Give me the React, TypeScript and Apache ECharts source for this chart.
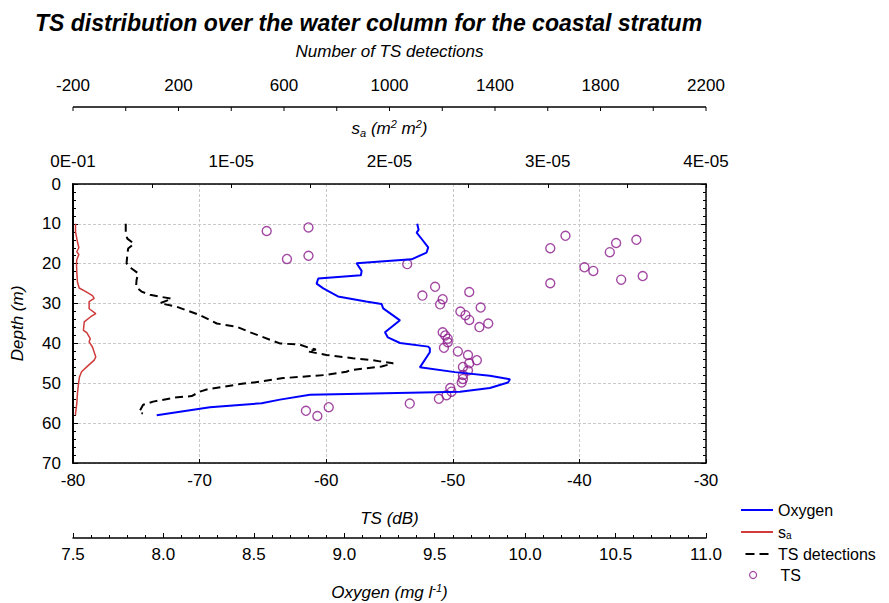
import React, { useEffect, useRef } from 'react';
import * as echarts from 'echarts';

// Oxygen profile (mg/l) against depth (m)
const oxygenDepth = [10, 11.5, 12.2, 13.8, 15.9, 17.2, 18.9, 19.9, 21.8, 22.9, 23.7, 25, 26.2, 28.2, 29.5, 30.1, 31.2, 34.2, 37.2, 38.5, 39.9, 40.8, 41.2, 42.2, 46, 47.2, 48.1, 49, 49.8, 51.2, 51.8, 52.1, 52.9, 54.1, 55, 56, 58];
const oxygenValues = [9.403, 9.411, 9.4, 9.428, 9.464, 9.455, 9.372, 9.068, 9.096, 9.092, 8.856, 8.847, 8.884, 8.965, 9.12, 9.206, 9.215, 9.308, 9.225, 9.241, 9.308, 9.464, 9.473, 9.473, 9.418, 9.612, 9.805, 9.916, 9.905, 9.805, 9.695, 9.64, 8.81, 8.644, 8.543, 8.257, 7.963];

// Area backscattering coefficient s_a (m2 m-2) against depth (m)
const saDepth = [10, 12, 14.5, 16, 17, 17.7, 19, 20, 22, 24.6, 26.1, 27, 28, 28.7, 29.5, 31.3, 32.5, 33.3, 34.6, 36.7, 37.3, 38.8, 39.6, 40.9, 43.4, 44.2, 45.7, 47.1, 48.4, 50, 52.6, 55.1, 57.6, 58];
const saValues = [1.6e-7, 1.6e-7, 2.8e-7, 3.7e-7, 2.4e-7, 3.7e-7, 2.4e-7, 2.2e-7, 2.4e-7, 2.8e-7, 3.9e-7, 8.1e-7, 1.23e-6, 1.34e-6, 1.02e-6, 1.02e-6, 1.44e-6, 1.12e-6, 7.1e-7, 6.6e-7, 8.7e-7, 1.09e-6, 1.02e-6, 1.23e-6, 1.44e-6, 1.34e-6, 9.2e-7, 5.4e-7, 4.1e-7, 3.5e-7, 2.8e-7, 2.4e-7, 1.6e-7, 1.6e-7];

// Number of single-target detections against depth (m)
const detectionDepth = [10, 12.5, 13.7, 15, 16.2, 17.8, 19.9, 21.2, 22.4, 24.1, 25.8, 27, 27.8, 28.8, 29.9, 30.8, 32.9, 35, 35.8, 37.3, 40, 40.3, 41, 41.5, 42, 42.9, 43.7, 44.2, 44.5, 45, 45.8, 46.7, 47.1, 47.9, 48.7, 49.6, 50.2, 51.5, 52.1, 53.2, 53.6, 54.6, 55.4, 57.3, 57.6];
const detectionCounts = [0, 0, 6, 31, 9, 6, 3, 22, 47, 41, 39, 60, 92, 174, 130, 193, 281, 345, 420, 475, 584, 660, 690, 721, 690, 761, 861, 937, 963, 1014, 970, 850, 837, 761, 597, 509, 433, 311, 281, 250, 186, 104, 66, 50, 65];

// Individual target strengths (dB) and their depths (m)
const tsValues = [-64.7, -63.1, -61.4, -61.4, -53.6, -51.4, -52.4, -50.8, -51.0, -48.7, -47.8, -49.4, -49.0, -48.7, -47.9, -47.2, -50.8, -50.6, -50.4, -50.4, -50.7, -49.6, -48.8, -48.1, -48.7, -49.2, -48.8, -49.2, -49.2, -49.3, -50.2, -50.1, -50.5, -51.1, -53.4, -59.8, -61.6, -60.7, -42.3, -41.1, -42.3, -39.6, -38.9, -37.6, -37.1, -35.5, -36.7, -35.0];
const tsDepth = [11.8, 18.8, 10.9, 18.0, 20.1, 25.8, 28.0, 28.9, 30.2, 27.1, 31.0, 32.0, 32.9, 34.1, 35.9, 35.0, 37.2, 38.0, 38.8, 39.7, 41.1, 42.0, 42.9, 44.2, 45.0, 45.9, 46.8, 47.9, 48.9, 49.8, 51.2, 52.1, 53.0, 53.9, 55.1, 56.0, 56.9, 58.2, 16.1, 13.0, 24.9, 20.9, 21.8, 17.1, 14.8, 14.0, 24.0, 23.1];

// Axis ranges
const DEPTH_RANGE = [0, 70];
const TS_RANGE = [-80, -30];
const SA_RANGE = [0, 4e-5];
const OXY_RANGE = [7.5, 11];
const COUNT_RANGE = [-200, 2200];
const COUNT_TICK_STEP = 200;
const COUNT_LABEL_STEP = 400;

// Plot frame and the two extra scales outside it (px)
const PLOT_LEFT = 73;
const PLOT_TOP = 184;
const PLOT_W = 633;
const PLOT_H = 279;
const OXY_AXIS_OFFSET = 75; // oxygen scale below the TS scale
const COUNT_AXIS_OFFSET = 77; // detections scale above the s_a scale

const FONT = '"Liberation Sans", Arial, sans-serif';
const BLACK = '#000';
const GRID_COLOR = '#c8c8c8';
const OXY_COLOR = '#0000ff';
const SA_COLOR = '#d03c3c';
const TS_COLOR = '#8b1a8b';

const labelStyle = { color: BLACK, fontSize: 17, fontFamily: FONT };
const nameStyle = {
  color: BLACK,
  fontSize: 17,
  fontStyle: 'italic' as const,
  fontFamily: FONT,
  lineHeight: 20,
  rich: {
    sub: { fontSize: 11, fontStyle: 'italic', fontFamily: FONT, color: BLACK, verticalAlign: 'bottom', lineHeight: 20 },
    sup: { fontSize: 11, fontStyle: 'italic', fontFamily: FONT, color: BLACK, verticalAlign: 'top', lineHeight: 16 },
  },
};
const lineOf = (width: number) => ({ show: true, onZero: false, lineStyle: { color: BLACK, width } });
const ticks = (length: number) => ({ show: true, inside: true, length, lineStyle: { color: BLACK, width: 1 } });
const minor = { show: true, splitNumber: 5, length: 3, lineStyle: { color: BLACK, width: 1 } };

const saLabel = (v: number) => {
  const k = v / 1e-5;
  const r = Math.round(k);
  if (Math.abs(k - r) > 1e-6) return '';
  return r === 0 ? '0E-01' : `${r}E-05`;
};
const countLabel = (v: number) => ((v - COUNT_RANGE[0]) % COUNT_LABEL_STEP === 0 ? String(v) : '');

const legendText = {
  color: BLACK, fontSize: 16, fontFamily: FONT, lineHeight: 16,
  rich: { sub: { fontSize: 10, fontFamily: FONT, color: BLACK, verticalAlign: 'bottom', lineHeight: 16 } },
};

const gridBox = (top: number, height: number) => ({
  left: PLOT_LEFT, top, width: PLOT_W, height, containLabel: false, outerBoundsMode: 'none',
});
// an axis that only carries the scale of a strip grid
const stripY = (gridIndex: number) => ({ type: 'value', gridIndex, min: 1, max: 2, show: false });
// an invisible twin of a scale, so that series in the main frame can use it
const twinX = (range: number[]) => ({ type: 'value', gridIndex: 0, min: range[0], max: range[1], show: false });

// rule and ticks of the detections scale, spaced along the same linear scale as its labels
function countRuleGraphics(y: number) {
  const span = COUNT_RANGE[1] - COUNT_RANGE[0];
  const toX = (v: number) => PLOT_LEFT + ((v - COUNT_RANGE[0]) / span) * PLOT_W;
  const items: any[] = [
    {
      type: 'line', z: 100, silent: true,
      shape: { x1: toX(COUNT_RANGE[0]), y1: y, x2: toX(COUNT_RANGE[1]), y2: y },
      style: { stroke: BLACK, lineWidth: 1.5 },
    },
  ];
  for (let v = COUNT_RANGE[0]; v <= COUNT_RANGE[1]; v += COUNT_TICK_STEP) {
    const x = toX(v);
    items.push({
      type: 'line', z: 100, silent: true,
      shape: { x1: x, y1: y, x2: x, y2: y + 4 },
      style: { stroke: BLACK, lineWidth: 1 },
    });
  }
  return items;
}

export default function App() {
  const ref = useRef<HTMLDivElement>(null);

  useEffect(() => {
    const chart = echarts.init(ref.current!, null, { renderer: 'svg' });
    const countLine = PLOT_TOP - COUNT_AXIS_OFFSET;
    chart.setOption({
      animation: false,
      backgroundColor: '#fff',
      title: {
        text: 'TS distribution over the water column for the coastal stratum',
        left: 35,
        top: 11,
        padding: 0,
        textStyle: { fontSize: 23, fontWeight: 'bold', fontStyle: 'italic', fontFamily: FONT, color: BLACK },
      },
      grid: [
        gridBox(PLOT_TOP, PLOT_H), // main frame
        gridBox(PLOT_TOP + PLOT_H, OXY_AXIS_OFFSET), // strip above the oxygen scale
        gridBox(countLine, COUNT_AXIS_OFFSET), // strip under the detections scale
      ],
      graphic: countRuleGraphics(countLine),
      xAxis: [
        {
          type: 'value', gridIndex: 0, position: 'bottom', min: TS_RANGE[0], max: TS_RANGE[1], interval: 10,
          axisLine: lineOf(1.5), axisTick: ticks(4),
          axisLabel: { ...labelStyle, margin: 9 },
          splitLine: { show: true, lineStyle: { color: GRID_COLOR, type: [3, 2], width: 1 } },
          name: 'TS (dB)', nameLocation: 'middle', nameGap: 45, nameTextStyle: nameStyle,
        },
        {
          type: 'value', gridIndex: 0, position: 'top', min: SA_RANGE[0], max: SA_RANGE[1], interval: 5e-6,
          axisLine: lineOf(1.5), axisTick: ticks(4),
          axisLabel: { ...labelStyle, margin: 14, formatter: saLabel },
          splitLine: { show: false },
          name: 's{sub|a} (m{sup|2} m{sup|2})', nameLocation: 'middle', nameGap: 46, nameTextStyle: nameStyle,
        },
        twinX(OXY_RANGE),
        twinX(COUNT_RANGE),
        {
          type: 'value', gridIndex: 1, position: 'bottom', min: OXY_RANGE[0], max: OXY_RANGE[1], interval: 0.5,
          axisLine: lineOf(1.5), axisTick: ticks(5), minorTick: minor,
          axisLabel: { ...labelStyle, margin: 8, formatter: (v: number) => v.toFixed(1) },
          splitLine: { show: false },
          name: 'Oxygen (mg l{sup|-1})', nameLocation: 'middle', nameGap: 44, nameTextStyle: nameStyle,
        },
        {
          // detections scale: labels and title; its rule and ticks come from countRuleGraphics
          type: 'value', gridIndex: 2, position: 'top', min: COUNT_RANGE[0], max: COUNT_RANGE[1], interval: COUNT_TICK_STEP,
          axisLine: { show: false, onZero: false }, axisTick: { show: false },
          axisLabel: { ...labelStyle, margin: 13, formatter: countLabel },
          splitLine: { show: false },
          name: 'Number of TS detections', nameLocation: 'middle', nameGap: 46, nameTextStyle: nameStyle,
        },
      ],
      yAxis: [
        {
          type: 'value', gridIndex: 0, position: 'left', inverse: true, min: DEPTH_RANGE[0], max: DEPTH_RANGE[1], interval: 10,
          axisLine: lineOf(2), axisTick: ticks(5), minorTick: minor,
          axisLabel: { ...labelStyle, margin: 12 },
          splitLine: { show: true, lineStyle: { color: GRID_COLOR, type: [3, 2], width: 1 } },
          name: 'Depth (m)', nameLocation: 'middle', nameGap: 46, nameRotate: 90, nameTextStyle: nameStyle,
        },
        {
          type: 'value', gridIndex: 0, position: 'right', inverse: true, min: DEPTH_RANGE[0], max: DEPTH_RANGE[1], interval: 10,
          axisLine: lineOf(1.5), axisTick: ticks(5), minorTick: minor,
          axisLabel: { show: false }, splitLine: { show: false },
        },
        stripY(1),
        stripY(2),
      ],
      legend: [
        {
          data: [
            { name: 'Oxygen', icon: 'rect' },
            { name: 'sa', icon: 'rect' },
            { name: 'TS detections', icon: 'path://M0,0H9V2H0Z M14,0H23V2H14Z' },
          ],
          orient: 'vertical', left: 741, top: 502, padding: 0,
          itemWidth: 32, itemHeight: 2, itemGap: 6,
          formatter: (n: string) => (n === 'sa' ? 's{sub|a}' : n),
          textStyle: legendText,
        },
        {
          data: [{ name: 'TS', icon: 'circle', itemStyle: { color: 'rgba(0,0,0,0)', borderColor: TS_COLOR, borderWidth: 1.2 } }],
          orient: 'vertical', left: 749, top: 567, padding: 0,
          itemWidth: 7, itemHeight: 7,
          textStyle: { ...legendText, padding: [0, 0, 0, 19] },
        },
      ],
      series: [
        {
          name: 'Oxygen', type: 'line', xAxisIndex: 2, yAxisIndex: 0,
          data: oxygenDepth.map((d, i) => [oxygenValues[i], d]),
          symbol: 'none', lineStyle: { color: OXY_COLOR, width: 2 }, itemStyle: { color: OXY_COLOR },
        },
        {
          name: 'sa', type: 'line', xAxisIndex: 1, yAxisIndex: 0,
          data: saDepth.map((d, i) => [saValues[i], d]),
          symbol: 'none', lineStyle: { color: SA_COLOR, width: 1.5 }, itemStyle: { color: SA_COLOR },
        },
        {
          name: 'TS detections', type: 'line', xAxisIndex: 3, yAxisIndex: 0,
          data: detectionDepth.map((d, i) => [detectionCounts[i], d]),
          symbol: 'none', lineStyle: { color: BLACK, width: 2, type: [8, 5] }, itemStyle: { color: BLACK },
        },
        {
          name: 'TS', type: 'scatter', xAxisIndex: 0, yAxisIndex: 0,
          data: tsDepth.map((d, i) => [tsValues[i], d]),
          symbol: 'circle', symbolSize: 9,
          itemStyle: { color: 'rgba(0,0,0,0)', borderColor: TS_COLOR, borderWidth: 1.4 },
        },
      ],
    });
    return () => chart.dispose();
  }, []);

  return <div ref={ref} style={{ position: 'absolute', left: 0, top: 0, width: 889, height: 603 }} />;
}
